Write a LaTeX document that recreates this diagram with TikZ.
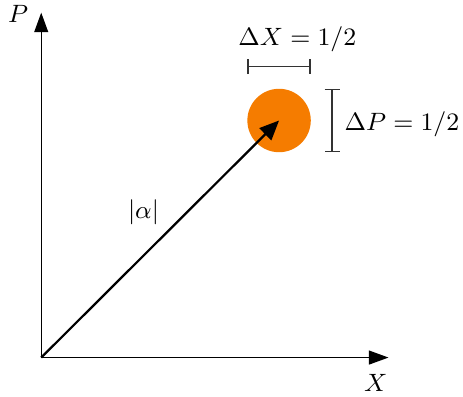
\documentclass[tikz,border=0pt]{standalone}
\usepackage{amsmath}
\usepackage{amssymb}
\usepackage{tikz}
\usetikzlibrary{arrows.meta}

\definecolor{stateorange}{RGB}{245,124,0}

\begin{document}
\begin{tikzpicture}[scale=1.0, >={Triangle[length=7pt,width=5pt]},
            every node/.style={font=\fontsize{9.5pt}{11pt}\selectfont}]
            \useasboundingbox (-0.52,-0.49) rectangle (5.32,4.51);

            % Axes
            \coordinate (O) at (0,0);
            \coordinate (xend) at (4.38,0);
            \coordinate (pend) at (0,4.35);
            \draw[->] (O) -- (xend);
            \draw[->] (O) -- (pend);
            \node (xlab) at (4.22,-0.32) {$X$};
            \node (plab) at (-0.29,4.33) {$P$};

            % Coherent state
            \node[circle, fill=stateorange, minimum size=0.8cm, inner sep=0pt] (state) at (3.0,2.99) {};
            \draw[->, thick, >={Triangle[length=7pt,width=6pt]}] (O) -- (state.center);
            \node (alpha) at (1.29,1.83) {$|\alpha|$};

            % Uncertainty bars
            \coordinate (dxl) at (2.6,3.67);
            \coordinate (dxr) at (3.4,3.67);
            \draw[black!80, semithick, |-|, >={Bar[width=0.26cm]}] (dxl) -- (dxr);
            \node (dxlab) at (3.23,4.01) {$\Delta X = 1/2$};

            \coordinate (dpt) at (3.67,3.39);
            \coordinate (dpb) at (3.67,2.59);
            \draw[black!80, semithick, |-|, >={Bar[width=0.26cm]}] (dpt) -- (dpb);
            \node[anchor=west, inner sep=0pt] (dplab) at (3.82,2.94) {$\Delta P = 1/2$};
        \end{tikzpicture}
\end{document}
